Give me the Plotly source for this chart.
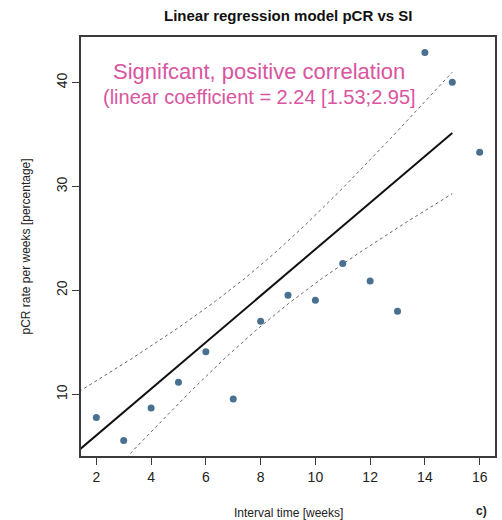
import numpy as np
import plotly.graph_objects as go

# Observed pCR rate per interval week
interval_weeks = [2, 3, 4, 5, 6, 7, 8, 9, 10, 11, 12, 13, 14, 15, 16]
pcr_rate = [7.76, 5.55, 8.68, 11.15, 14.1, 9.55, 17.02, 19.52, 19.04, 22.6, 20.9, 18.0, 42.9, 40.04, 33.3]

# Fitted linear model and its 95% confidence band
fit_slope = 2.24
fit_intercept = 1.56
fit_x_from, fit_x_to = 1.0, 15.0
band_center_x = 8.0
band_halfwidth_center = 2.94
band_spread = 0.0604

title_text = "Linear regression model pCR vs SI"
x_title = "Interval time [weeks]"
y_title = "pCR rate per weeks [percentage]"
note_line1 = "Signifcant, positive correlation"
note_line2 = "(linear coefficient = 2.24 [1.53;2.95]"
panel_tag = "c)"

x_ticks = [2, 4, 6, 8, 10, 12, 14, 16]
y_ticks = [10, 20, 30, 40]

POINT = "#4a7090"
PINK = "#d9559f"
FRAME = "#3a3a3a"
TEXT = "#222222"
SANS = "Liberation Sans, Arial, sans-serif"


def padded(vals, frac=0.04):
    lo, hi = min(vals), max(vals)
    span = hi - lo
    return [lo - frac * span, hi + frac * span]


xg = np.linspace(fit_x_from, fit_x_to, 200)
yfit = fit_intercept + fit_slope * xg
half = band_halfwidth_center * np.sqrt(1 + band_spread * (xg - band_center_x) ** 2)

fig = go.Figure()
fig.add_trace(go.Scatter(x=xg, y=yfit + half, mode="lines",
                         line=dict(color="#666666", width=1, dash="dot"), hoverinfo="skip"))
fig.add_trace(go.Scatter(x=xg, y=yfit - half, mode="lines",
                         line=dict(color="#666666", width=1, dash="dot"), hoverinfo="skip"))
fig.add_trace(go.Scatter(x=xg, y=yfit, mode="lines",
                         line=dict(color="#111111", width=2), hoverinfo="skip"))
fig.add_trace(go.Scatter(x=interval_weeks, y=pcr_rate, mode="markers",
                         marker=dict(color=POINT, size=7, line=dict(width=0)),
                         cliponaxis=False))

axis_common = dict(showgrid=False, zeroline=False, showline=True, mirror=True,
                   linecolor=FRAME, linewidth=1.5, ticks="outside", ticklen=7,
                   tickwidth=1, tickcolor=FRAME,
                   tickfont=dict(family=SANS, size=14, color=TEXT))

fig.update_layout(
    width=502, height=520,
    margin=dict(l=81, r=5, t=37, b=64),
    paper_bgcolor="white", plot_bgcolor="white",
    showlegend=False,
    xaxis=dict(range=padded(interval_weeks), tickvals=x_ticks, **axis_common),
    yaxis=dict(range=padded(pcr_rate), tickvals=y_ticks, tickangle=-90, **axis_common),
)

fig.add_annotation(text="<b>" + title_text + "</b>", xref="paper", yref="paper",
                   x=0.5, y=1, yshift=22, showarrow=False, yanchor="middle",
                   font=dict(family=SANS, size=15, color="#111111"))
fig.add_annotation(text=x_title, xref="paper", yref="paper", x=0.5, y=0, yshift=-57,
                   showarrow=False, yanchor="middle",
                   font=dict(family=SANS, size=12, color=TEXT))
fig.add_annotation(text=y_title, xref="paper", yref="paper", x=0, xshift=-56, y=0.5,
                   textangle=-90, showarrow=False, xanchor="center",
                   font=dict(family=SANS, size=12, color=TEXT))
fig.add_annotation(text="<b>" + panel_tag + "</b>", xref="paper", yref="paper", x=1, xshift=-6,
                   y=0, yshift=-55, showarrow=False, yanchor="middle",
                   font=dict(family=SANS, size=12, color=TEXT))

# Two-line note in the upper-left of the panel
fig.add_annotation(text=note_line1, xref="paper", yref="paper", x=0.5, xshift=-29,
                   y=1, yshift=-34, showarrow=False, yanchor="middle",
                   font=dict(family=SANS, size=22, color=PINK))
fig.add_annotation(text=note_line2, xref="paper", yref="paper", x=0.5, xshift=-29,
                   y=1, yshift=-60, showarrow=False, yanchor="middle",
                   font=dict(family=SANS, size=20, color=PINK))

fig.write_html("out.html")
